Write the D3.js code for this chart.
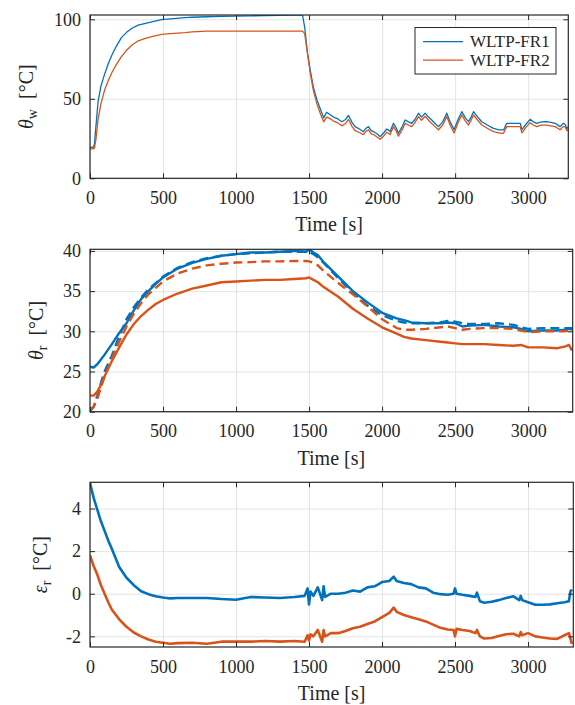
<!DOCTYPE html>
<html>
<head>
<meta charset="utf-8">
<script src="https://cdn.jsdelivr.net/npm/d3@7"></script>
<style>
  body { margin: 0; background: #fff; }
  svg { display: block; font-family: "Liberation Serif", "DejaVu Serif", serif; }
  .grid line { stroke: #e4e4e4; stroke-width: 1; }
  .grid .domain { display: none; }
  .ticks .domain { display: none; }
  .ticks line { stroke: #262626; stroke-width: 1; }
  .axis-title { font-size: 20px; fill: #262626; }
  .frame { fill: none; stroke: #262626; stroke-width: 1.2; }
  .legend-box { fill: #fff; stroke: #262626; stroke-width: 1; }
  .legend-text { font-size: 17px; fill: #262626; }
</style>
</head>
<body>
<script>
const width = 575;
const height = 705;

const seriesNames = ["WLTP-FR1", "WLTP-FR2"];
const colors = ["#0072BD", "#D95319"];

const xTicks = [0, 500, 1000, 1500, 2000, 2500, 3000];
const yTicksW = [0, 50, 100];
const yTicksR = [20, 25, 30, 35, 40];
const yTicksE = [-2, 0, 2, 4];

// coolant temperature θw (top panel)
const timeW = [0, 20, 30, 40, 55, 75, 100, 125, 150, 180,
  215, 250, 290, 330, 380, 430, 490, 550, 650, 700,
  800, 900, 1000, 1100, 1200, 1300, 1400, 1455, 1470, 1490,
  1510, 1530, 1555, 1580, 1600, 1620, 1645, 1667, 1695, 1724,
  1750, 1770, 1795, 1815, 1845, 1872, 1890, 1907, 1925, 1941,
  1965, 1987, 2010, 2032, 2055, 2078, 2095, 2112, 2135, 2158,
  2180, 2203, 2225, 2249, 2270, 2295, 2318, 2340, 2363, 2386,
  2415, 2443, 2468, 2493, 2520, 2546, 2570, 2592, 2610, 2626,
  2655, 2683, 2720, 2763, 2800, 2832, 2845, 2854, 2900, 2946,
  2957, 2985, 3014, 3035, 3059, 3090, 3128, 3155, 3185, 3219,
  3240, 3253, 3265, 3275];
const thetaW_FR1 = [19.5, 19.5, 21, 32, 48, 58, 65.5, 72, 77.5, 83,
  88.5, 91.8, 94.5, 96.3, 97.5, 98.5, 99.8, 100.2, 101, 101.3,
  101.6, 101.8, 102, 102.2, 102.3, 102.5, 102.6, 102.7, 95, 78,
  67, 57, 49, 43, 38, 41.5, 40, 38.5, 37.5, 35.6,
  37, 39.5, 35, 32.5, 31, 29.3, 31.5, 32.5, 30, 29.3,
  28, 26.2, 28.5, 31, 29.5, 34.6, 32, 28.3, 32, 36.7,
  35.5, 34.6, 37, 40.9, 38.5, 41, 38.5, 36.7, 34.5, 32.5,
  35.5, 40.9, 35, 30.6, 37, 41.9, 38, 35.6, 38.5, 41.9,
  38.5, 35.6, 33.5, 31.4, 30.5, 30.4, 33, 34.6, 34.5, 34.6,
  30.6, 34, 37.1, 35.5, 34.6, 35.5, 35.6, 35.2, 34.6, 32.5,
  34.5, 34, 31.4, 32];
const thetaW_FR2 = [18.5, 18.5, 19, 24, 37, 47, 55.5, 61.5, 66.5, 71.5,
  76.5, 80.5, 84, 86.5, 88, 89.3, 90.5, 91, 91.6, 92.1,
  92.6, 92.6, 92.6, 92.6, 92.6, 92.6, 92.6, 92.6, 91, 78,
  65, 55, 46.5, 40, 35.5, 38.5, 37.5, 36, 35, 33,
  34.5, 37, 32.5, 30, 28.8, 27.5, 29.5, 30.5, 28, 27.5,
  26, 24.5, 26.5, 29, 27.5, 32.5, 30, 26.5, 30, 34.5,
  33.5, 32.5, 35, 38.8, 36.5, 39, 36.5, 34.5, 32.5, 30.5,
  33.5, 38.8, 33, 28.5, 35, 39.8, 36, 33.5, 36.5, 39.8,
  36.5, 33.5, 31.5, 29.4, 28.5, 28.3, 31, 32.5, 32.5, 32.5,
  28.6, 32, 35, 33.5, 32.5, 33.5, 33.5, 33, 32.5, 30.5,
  32.5, 32.5, 30, 30.5];

// rotor temperature θr, measured (solid) and model (dashed)
const timeR = [0, 25, 50, 75, 100, 150, 200, 250, 300, 350,
  400, 450, 500, 600, 700, 800, 900, 1000, 1100, 1200,
  1300, 1400, 1480, 1500, 1530, 1560, 1600, 1700, 1800, 1900,
  2000, 2100, 2150, 2200, 2300, 2400, 2450, 2500, 2550, 2600,
  2700, 2800, 2900, 2950, 3000, 3100, 3200, 3250, 3280, 3300];
const thetaR_FR1 = [25.6, 25.5, 25.9, 26.5, 27.1, 28.4, 29.8, 31.0, 32.6, 34.0,
  35.0, 35.9, 36.7, 37.8, 38.5, 39.0, 39.4, 39.6, 39.8, 39.8,
  39.9, 40.0, 39.9, 40.2, 39.8, 39.5, 38.6, 36.8, 35.0, 33.6,
  32.3, 31.6, 31.4, 31.1, 31.0, 31.0, 31.1, 31.0, 30.6, 30.7,
  30.8, 30.6, 30.5, 30.3, 30.0, 30.1, 30.1, 30.2, 30.3, 30.2];
const thetaR_FR1_model = [20.1, 20.6, 22.0, 23.6, 25.0, 27.0, 29.4, 31.5, 33.0, 34.2,
  35.2, 36.0, 36.8, 37.9, 38.6, 39.1, 39.4, 39.6, 39.7, 39.8,
  39.9, 39.9, 39.9, 39.9, 39.6, 39.2, 38.5, 36.6, 34.8, 33.2,
  32.0, 31.3, 31.1, 31.0, 31.0, 31.1, 31.3, 31.2, 31.0, 30.9,
  30.9, 31.0, 30.8, 30.5, 30.3, 30.4, 30.4, 30.4, 30.4, 30.4];
const thetaR_FR2 = [22.0, 22.0, 22.5, 23.3, 24.4, 26.3, 28.0, 29.6, 30.9, 31.9,
  32.7, 33.4, 33.9, 34.7, 35.3, 35.7, 36.1, 36.2, 36.3, 36.4,
  36.4, 36.5, 36.6, 36.7, 36.4, 36.1, 35.5, 34.3, 32.8, 31.6,
  30.5, 29.7, 29.3, 29.1, 28.9, 28.7, 28.6, 28.5, 28.4, 28.4,
  28.4, 28.3, 28.2, 28.3, 28.0, 28.0, 27.9, 28.1, 28.3, 27.6];
const thetaR_FR2_model = [20.2, 20.6, 21.6, 23.0, 24.4, 26.6, 28.7, 30.6, 32.2, 33.5,
  34.6, 35.4, 36.2, 37.2, 37.8, 38.2, 38.4, 38.55, 38.6, 38.7,
  38.7, 38.75, 38.75, 38.7, 38.5, 38.2, 37.5, 36.0, 34.6, 33.1,
  31.5, 30.4, 30.2, 30.2, 30.3, 30.5, 30.6, 30.4, 30.2, 30.3,
  30.4, 30.4, 30.3, 30.1, 29.9, 30.0, 30.0, 30.0, 30.1, 30.1];

// estimation error εr
const timeE = [0, 25, 50, 75, 100, 125, 150, 200, 250, 300,
  350, 400, 450, 500, 550, 600, 700, 800, 900, 1000,
  1100, 1200, 1300, 1400, 1470, 1490, 1500, 1510, 1530, 1560,
  1590, 1600, 1610, 1650, 1700, 1750, 1800, 1850, 1900, 1950,
  2000, 2050, 2080, 2100, 2150, 2200, 2250, 2300, 2350, 2400,
  2450, 2490, 2500, 2510, 2550, 2600, 2640, 2650, 2670, 2700,
  2750, 2800, 2850, 2900, 2940, 2950, 2960, 3000, 3050, 3100,
  3150, 3200, 3250, 3280, 3290, 3300];
const epsR_FR1 = [5.2, 4.5, 3.95, 3.4, 2.95, 2.5, 2.1, 1.25, 0.75, 0.4,
  0.12, -0.02, -0.12, -0.18, -0.22, -0.2, -0.2, -0.2, -0.25, -0.28,
  -0.15, -0.18, -0.2, -0.15, -0.1, 0.25, -0.5, 0.1, -0.1, 0.3,
  -0.3, 0.35, -0.15, 0.0, 0.0, 0.05, 0.15, 0.1, 0.3, 0.35,
  0.55, 0.6, 0.8, 0.6, 0.5, 0.45, 0.3, 0.25, 0.05, -0.02,
  -0.05, 0.0, 0.25, 0.0, -0.05, -0.1, -0.15, 0.05, -0.35, -0.42,
  -0.38, -0.3, -0.2, -0.12, -0.3, -0.1, -0.3, -0.4, -0.52, -0.52,
  -0.5, -0.45, -0.4, -0.35, 0.1, 0.2];
const epsR_FR2 = [1.8, 1.3, 0.9, 0.4, 0.0, -0.4, -0.75, -1.2, -1.55, -1.82,
  -2.0, -2.15, -2.25, -2.3, -2.35, -2.32, -2.3, -2.35, -2.25, -2.25,
  -2.25, -2.22, -2.25, -2.22, -2.25, -1.95, -2.2, -1.9, -2.0, -1.7,
  -2.25, -1.7, -2.0, -1.85, -1.85, -1.75, -1.62, -1.55, -1.42, -1.3,
  -1.1, -0.9, -0.65, -0.85, -1.0, -1.1, -1.2, -1.3, -1.45, -1.6,
  -1.68, -1.7, -2.0, -1.65, -1.7, -1.75, -1.85, -1.7, -2.0, -2.1,
  -2.08, -1.98, -1.9, -1.88, -2.0, -1.8, -1.95, -1.85, -2.0, -2.05,
  -2.1, -2.12, -1.95, -1.85, -2.1, -2.35];

const svg = d3
  .select("body")
  .append("svg")
  .attr("width", width)
  .attr("height", height);

// d3 axes put sans-serif on the group, override it
const serifTicks = sel => sel
  .attr("font-family", "Liberation Serif, serif")
  .attr("font-size", 18)
  .selectAll("text")
  .style("font-family", "'Liberation Serif', serif")
  .attr("fill", "#262626");

function drawPanel(p) {
  const x = d3.scaleLinear().domain([0, p.xMax]).range([p.left, p.right]);
  const y = d3.scaleLinear().domain(p.yDomain).range([p.bottom, p.top]);
  const w = p.right - p.left;
  const h = p.bottom - p.top;
  const g = svg.append("g");

  // grid
  g.append("g")
    .attr("class", "grid")
    .attr("transform", `translate(0,${p.bottom})`)
    .call(d3.axisBottom(x).tickValues(xTicks).tickSize(-h).tickFormat(""));
  g.append("g")
    .attr("class", "grid")
    .attr("transform", `translate(${p.left},0)`)
    .call(d3.axisLeft(y).tickValues(p.yTicks).tickSize(-w).tickFormat(""));

  // lines
  const clipId = "clip" + p.id;
  svg.append("clipPath").attr("id", clipId)
    .append("rect")
    .attr("x", p.left).attr("y", p.top).attr("width", w).attr("height", h);

  p.series.forEach(s => {
    const line = d3.line().x((d, i) => x(s.t[i])).y(d => y(d));
    g.append("path")
      .attr("clip-path", `url(#${clipId})`)
      .attr("d", line(s.v))
      .attr("fill", "none")
      .attr("stroke", s.color)
      .attr("stroke-width", p.lineWidth)
      .attr("stroke-linejoin", "round")
      .attr("stroke-dasharray", s.dash || null);
  });

  // ticks (inward, box on)
  g.append("g")
    .attr("class", "ticks")
    .attr("transform", `translate(0,${p.bottom})`)
    .call(d3.axisBottom(x).tickValues(xTicks).tickSizeInner(-5).tickSizeOuter(0).tickPadding(13)
      .tickFormat(d => String(d)))
    .call(serifTicks);
  g.append("g")
    .attr("class", "ticks")
    .attr("transform", `translate(0,${p.top})`)
    .call(d3.axisTop(x).tickValues(xTicks).tickSizeInner(-5).tickSizeOuter(0).tickFormat(""));
  g.append("g")
    .attr("class", "ticks")
    .attr("transform", `translate(${p.left},0)`)
    .call(d3.axisLeft(y).tickValues(p.yTicks).tickSizeInner(-5).tickSizeOuter(0).tickPadding(9)
      .tickFormat(d => String(d)))
    .call(serifTicks);
  g.append("g")
    .attr("class", "ticks")
    .attr("transform", `translate(${p.right},0)`)
    .call(d3.axisRight(y).tickValues(p.yTicks).tickSizeInner(-5).tickSizeOuter(0).tickFormat(""));

  g.append("rect")
    .attr("class", "frame")
    .attr("x", p.left).attr("y", p.top).attr("width", w).attr("height", h);

  // x title
  g.append("text")
    .attr("class", "axis-title")
    .attr("x", (p.left + p.right) / 2)
    .attr("y", p.bottom + 53)
    .attr("text-anchor", "middle")
    .text("Time [s]");

  // y title
  const t = g.append("text")
    .attr("class", "axis-title")
    .attr("text-anchor", "middle")
    .attr("transform", `translate(${p.yLabelX},${(p.top + p.bottom) / 2}) rotate(-90)`);
  t.append("tspan").attr("font-style", "italic").text(p.sym);
  t.append("tspan").attr("font-size", "14px").attr("dy", 4).text(p.sub);
  t.append("tspan").attr("dy", -4).text("\u2002[°C]");

  return g;
}

const topPanel = drawPanel({
  id: 1, left: 90, right: 568.3, top: 15, bottom: 178.3,
  xMax: 3275, yDomain: [0, 102.7], yTicks: yTicksW,
  lineWidth: 1.3, yLabelX: 33, sym: "θ", sub: "w",
  series: [
    { t: timeW, v: thetaW_FR1, color: colors[0] },
    { t: timeW, v: thetaW_FR2, color: colors[1] }
  ]
});

drawPanel({
  id: 2, left: 90, right: 572.7, top: 249.3, bottom: 411.7,
  xMax: 3305, yDomain: [20, 40.2], yTicks: yTicksR,
  lineWidth: 2.4, yLabelX: 43, sym: "θ", sub: "r",
  series: [
    { t: timeR, v: thetaR_FR1, color: colors[0] },
    { t: timeR, v: thetaR_FR1_model, color: colors[0], dash: "9,5" },
    { t: timeR, v: thetaR_FR2, color: colors[1] },
    { t: timeR, v: thetaR_FR2_model, color: colors[1], dash: "9,5" }
  ]
});

drawPanel({
  id: 3, left: 90, right: 573.3, top: 482.3, bottom: 647,
  xMax: 3310, yDomain: [-2.5, 5.23], yTicks: yTicksE,
  lineWidth: 2.6, yLabelX: 47, sym: "ε", sub: "r",
  series: [
    { t: timeE, v: epsR_FR1, color: colors[0] },
    { t: timeE, v: epsR_FR2, color: colors[1] }
  ]
});

// legend
const legend = topPanel.append("g");
legend.append("rect")
  .attr("class", "legend-box")
  .attr("x", 415).attr("y", 27.5).attr("width", 141).attr("height", 46.5);
seriesNames.forEach((name, i) => {
  const ly = 41.7 + i * 18.5;
  legend.append("line")
    .attr("x1", 423).attr("x2", 463).attr("y1", ly).attr("y2", ly)
    .attr("stroke", colors[i]).attr("stroke-width", 1.3);
  legend.append("text")
    .attr("class", "legend-text")
    .attr("x", 470).attr("y", ly + 5.5)
    .text(name);
});
</script>
</body>
</html>
